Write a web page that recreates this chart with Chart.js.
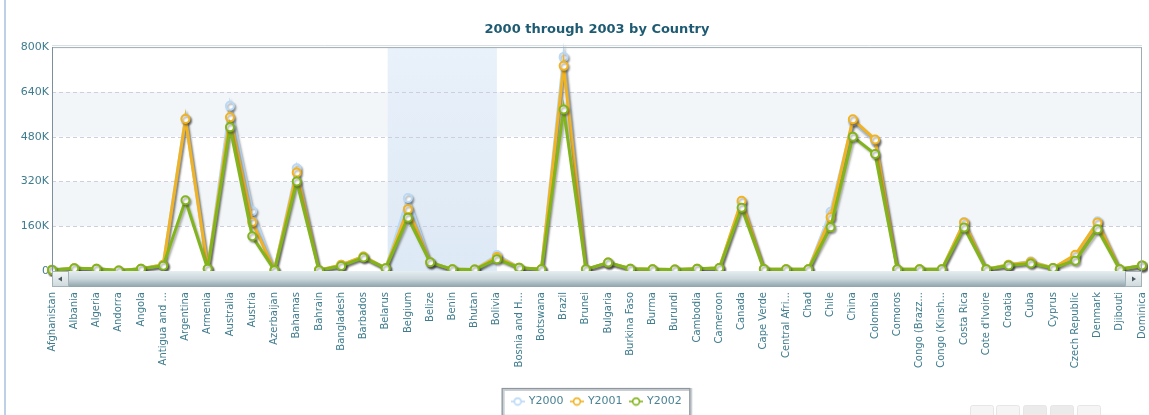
<!DOCTYPE html>
<html><head><meta charset="utf-8">
<script src="https://cdn.jsdelivr.net/npm/chart.js@4.4.1/dist/chart.umd.min.js"></script>
<style>html,body{margin:0;padding:0;background:#fff;overflow:hidden}</style>
</head><body>
<canvas id="c" width="1149" height="415"></canvas>
<script>
const titleText = '2000 through 2003 by Country';
const countries = ['Afghanistan','Albania','Algeria','Andorra','Angola','Antigua and ...','Argentina','Armenia','Australia','Austria','Azerbaijan','Bahamas','Bahrain','Bangladesh','Barbados','Belarus','Belgium','Belize','Benin','Bhutan','Bolivia','Bosnia and H...','Botswana','Brazil','Brunei','Bulgaria','Burkina Faso','Burma','Burundi','Cambodia','Cameroon','Canada','Cape Verde','Central Afri...','Chad','Chile','China','Colombia','Comoros','Congo (Brazz...','Congo (Kinsh...','Costa Rica',"Cote d'Ivoire",'Croatia','Cuba','Cyprus','Czech Republic','Denmark','Djibouti','Dominica'];
const seriesNames = ['Y2000','Y2001','Y2002'];
const y2000 = [5000,10000,8000,2000,8000,22000,545000,8000,590000,214000,3000,367000,3000,22000,52000,10000,261000,31000,6000,5000,57000,12000,6000,765000,6000,30000,8000,6000,5000,8000,11000,245000,7000,6000,6000,212000,535000,465000,6000,6000,6000,175000,6000,22000,35000,11000,52000,178000,6000,20000];
const y2001 = [4000,10000,8000,2000,8000,22000,543000,8000,549000,175000,3000,352000,3000,22000,52000,10000,221000,31000,6000,5000,50000,12000,6000,733000,6000,30000,8000,6000,5000,8000,11000,251000,7000,6000,6000,192000,542000,470000,6000,6000,6000,173000,6000,22000,32000,11000,58000,173000,6000,20000];
const y2002 = [4000,10000,8000,2000,8000,19000,253000,8000,514000,124000,3000,320000,3000,18000,48000,10000,190000,31000,6000,5000,42000,12000,6000,577000,6000,30000,8000,6000,5000,8000,11000,226000,7000,6000,6000,156000,480000,418000,6000,6000,6000,155000,6000,20000,27000,11000,37000,149000,6000,20000];
const yTickLabels = ['0','160K','320K','480K','640K','800K'];
const yStep = 160000;
const yMax = 800000;
const highlightRange = ['Belarus','Bolivia'];
const colors = ['#b9d9f6','#f1b321','#82b41c'];

function makeIcon(color){
  const c = document.createElement('canvas'); c.width = 14; c.height = 10;
  const g = c.getContext('2d');
  g.strokeStyle = color; g.lineWidth = 1.6;
  g.beginPath(); g.moveTo(0,5); g.lineTo(14,5); g.stroke();
  g.beginPath(); g.arc(7,5,3.4,0,Math.PI*2); g.fillStyle='#fff'; g.fill(); g.stroke();
  return c;
}
const legendIcons = colors.map(makeIcon);

const shadow = {
  id:'shadow',
  beforeDatasetDraw(chart){ const c = chart.ctx; c.save(); c.shadowColor='rgba(60,60,60,0.4)'; c.shadowBlur=2; c.shadowOffsetX=1.5; c.shadowOffsetY=2; },
  afterDatasetDraw(chart){ chart.ctx.restore(); }
};

const decor = {
  id:'decor',
  beforeDatasetsDraw(chart){
    const {ctx, chartArea:a, scales:{x,y}} = chart;
    ctx.save();
    for (let i=0;i<yTickLabels.length-1;i++){
      if (i%2===1){
        const t = y.getPixelForValue((i+1)*yStep), b = y.getPixelForValue(i*yStep);
        ctx.fillStyle = '#f3f6f8'; ctx.fillRect(a.left, t, a.width, b-t);
      }
    }
    const x0 = x.getPixelForValue(countries.indexOf(highlightRange[0]));
    const x1 = x.getPixelForValue(countries.indexOf(highlightRange[1]));
    const gr = ctx.createLinearGradient(0,a.top,0,a.bottom);
    gr.addColorStop(0,'#e9f1fa'); gr.addColorStop(1,'#dde9f5');
    ctx.fillStyle = gr; ctx.fillRect(x0+2, a.top, x1-x0-2, a.height);
    ctx.strokeStyle = '#cfcde0'; ctx.lineWidth = 1.2; ctx.setLineDash([4,3]);
    for (let i=1;i<yTickLabels.length-1;i++){
      const py = Math.round(y.getPixelForValue(i*yStep))+0.5;
      ctx.beginPath(); ctx.moveTo(a.left,py); ctx.lineTo(a.right,py); ctx.stroke();
    }
    ctx.restore();
  },
  afterDraw(chart){
    const {ctx, chartArea:a} = chart;
    ctx.save();
    ctx.strokeStyle = '#a9bfe0'; ctx.lineWidth = 1.5;
    ctx.beginPath(); ctx.moveTo(5,0); ctx.lineTo(5,415); ctx.stroke();
    ctx.strokeStyle = '#d6dcdf'; ctx.lineWidth = 1;
    ctx.beginPath(); ctx.moveTo(a.left, a.top-1.5); ctx.lineTo(a.right, a.top-1.5); ctx.stroke();
    ctx.strokeStyle = '#9eacb3';
    ctx.strokeRect(a.left+0.5, a.top+0.5, a.width-1, a.height);
    ctx.strokeStyle = '#7d8f98';
    ctx.beginPath(); ctx.moveTo(a.left+0.5, a.top); ctx.lineTo(a.left+0.5, a.bottom); ctx.stroke();
    const sy = a.bottom, sh = 16;
    const g = ctx.createLinearGradient(0,sy,0,sy+sh);
    g.addColorStop(0,'#e6eef1'); g.addColorStop(0.5,'#c9d6db'); g.addColorStop(1,'#8ea3aa');
    ctx.fillStyle = g; ctx.fillRect(a.left, sy, a.width, sh);
    const bg = ctx.createLinearGradient(0,sy,0,sy+sh);
    bg.addColorStop(0,'#f4f7f8'); bg.addColorStop(1,'#cdd8dc');
    ctx.fillStyle = bg;
    ctx.fillRect(a.left+1, sy+1, 15, sh-2); ctx.fillRect(a.right-16, sy+1, 15, sh-2);
    ctx.strokeStyle = '#a3b2b8'; ctx.strokeRect(a.left+0.5, sy+0.5, 16, sh-1); ctx.strokeRect(a.right-16.5, sy+0.5, 16, sh-1);
    ctx.fillStyle = '#4a5a60';
    ctx.beginPath(); ctx.moveTo(a.left+6, sy+8); ctx.lineTo(a.left+10, sy+5.5); ctx.lineTo(a.left+10, sy+10.5); ctx.fill();
    ctx.beginPath(); ctx.moveTo(a.right-6, sy+8); ctx.lineTo(a.right-10, sy+5.5); ctx.lineTo(a.right-10, sy+10.5); ctx.fill();
    const hb = chart.legend.legendHitBoxes;
    if (hb && hb.length){
      const l = Math.min(...hb.map(h=>h.left)) - 10;
      const r = Math.max(...hb.map(h=>h.left+h.width)) + 8;
      const cy = hb[0].top + hb[0].height/2;
      ctx.strokeStyle = '#c9cfd3'; ctx.lineWidth = 3;
      ctx.strokeRect(l+1, cy-12, r-l, 27);
      ctx.strokeStyle = '#8e979d'; ctx.lineWidth = 1.2;
      ctx.strokeRect(l, cy-13, r-l, 27);
    }
    const bx = [970,996,1023,1050,1077];
    bx.forEach((b,i)=>{
      ctx.fillStyle = (i===2||i===3) ? '#ebebeb' : '#f5f5f5';
      ctx.strokeStyle = '#e6e6e6'; ctx.lineWidth = 1;
      ctx.beginPath(); ctx.roundRect(b+0.5, 405.5, 23, 14, 2); ctx.fill(); ctx.stroke();
    });
    ctx.restore();
  }
};

const datasets = [y2000,y2001,y2002].map((d,i)=>({
  label: seriesNames[i], data: d, borderColor: colors[i], backgroundColor: '#ffffff',
  borderWidth: 3, tension: 0, fill: false, pointRadius: 4, pointBorderWidth: 2,
  pointBackgroundColor: '#ffffff', pointBorderColor: colors[i], order: 2-i, clip: 6
}));

new Chart(document.getElementById('c'), {
  type: 'line',
  data: { labels: countries, datasets },
  plugins: [decor, shadow],
  options: {
    responsive: false, animation: false, devicePixelRatio: 1,
    layout: { padding: { left: 10, right: 7, top: 0, bottom: -2 } },
    plugins: {
      title: { display: true, text: titleText, fullSize: false, color: '#1e5b72',
        font: { family: 'DejaVu Sans', size: 13, weight: 'bold' }, padding: { top: 22, bottom: 9.5 } },
      legend: { position: 'bottom', fullSize: false,
        labels: { usePointStyle: true, padding: 8, color: '#4a8294',
          font: { family: 'DejaVu Sans', size: 11 },
          sort: (a,b)=>a.datasetIndex-b.datasetIndex,
          generateLabels(chart){
            const items = Chart.defaults.plugins.legend.labels.generateLabels(chart);
            items.forEach(it=>{ it.pointStyle = legendIcons[it.datasetIndex]; });
            return items;
          } } },
      tooltip: { enabled: false }
    },
    scales: {
      x: { type: 'category', offset: false, grid: { display: false, drawTicks: false }, border: { display: false },
        ticks: { autoSkip: false, maxRotation: 90, minRotation: 90, padding: 21, color: '#3f7c8e',
          font: { family: 'DejaVu Sans', size: 10 } },
        afterFit(s){ s.height = 117; s.paddingLeft = 0; s.paddingRight = 0; } },
      y: { min: 0, max: yMax, grid: { display: false, drawTicks: false }, border: { display: false },
        ticks: { stepSize: yStep, padding: 3, color: '#3f7c8e', font: { family: 'DejaVu Sans', size: 11 },
          callback: (v,i)=>yTickLabels[i] },
        afterFit(s){ s.width = 42; } }
    }
  }
});
</script>
</body></html>
